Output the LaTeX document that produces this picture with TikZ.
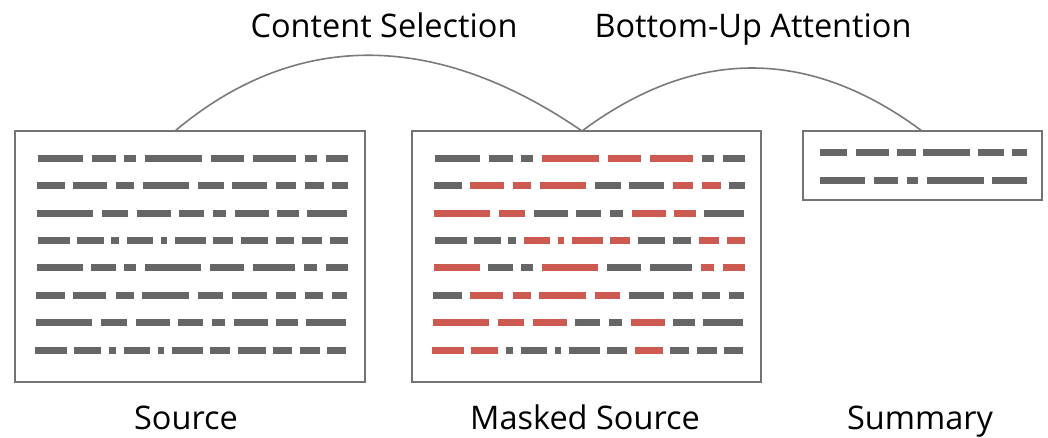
\documentclass[tikz,border=0pt]{standalone}
\usepackage{fontspec}
\setmainfont{Open Sans}
\definecolor{dg}{HTML}{666666}
\definecolor{rd}{HTML}{CC5A50}
\definecolor{frame}{HTML}{737373}
\definecolor{arcc}{HTML}{7A7A7A}

% one line of "text": a row of dashes at height #1
\newcommand\segrow[2]{%
  \foreach \a/\b/\c in {#2} {\draw[seg,\c] (\a,#1) -- (\b,#1);}}

% dash layouts of the eight document lines (x in source-box frame)
\newcommand\docrows{%
  \segrow{158.3}{37.7/83.3/lo,91.7/116/lo,124.3/136/lo,145/201.7/hi,210.7/244.3/hi,253.3/295.7/hi,304.7/317.3/lo,326/348.3/lo}
  \segrow{185.7}{36.7/65/lo,73.3/106.7/hi,116/134.3/hi,142.7/189.3/hi,198.3/223.7/lo,232.3/267.3/lo,276/296/hi,305/323.7/hi,332.3/347.7/lo}
  \segrow{213.1}{36.7/93.3/hi,102/127.7/hi,136.7/170.7/lo,179/204.3/lo,213/226/lo,235/269/hi,277.3/298.7/hi,307.3/347.3/lo}
  \segrow{240.5}{38.3/70/lo,76.7/104/lo,111/119/lo,126.7/153.3/hi,160.7/167/hi,174.7/205.7/hi,213.3/233.3/hi,241/268.3/lo,275.7/294/lo,301.7/321.7/hi,330/348.3/hi}
  \segrow{267.9}{37.2/82.8/hi,91.2/115.5/lo,123.8/135.5/lo,144.5/201.2/hi,210.2/243.8/lo,252.8/295.2/lo,304.2/316.8/hi,325.5/347.8/hi}
  \segrow{295.3}{36.2/64.5/lo,72.8/106.2/hi,115.5/133.8/hi,142.2/188.8/hi,197.8/223.2/hi,231.8/266.8/lo,275.5/295.5/lo,304.5/323.2/lo,331.8/347.2/lo}
  \segrow{322.7}{35.7/92.3/hi,101/126.7/hi,135.7/169.7/hi,178/203.3/lo,212/225/lo,234/268/hi,276.3/297.7/lo,306.3/346.3/lo}
  \segrow{350.1}{35/67/hi,74.3/101/hi,109/116/lo,124/150/lo,158/164/lo,172/203/lo,210/230/lo,238/266/hi,273/292/lo,299.7/320/lo,327.3/345.7/lo}
}

\tikzset{
  box/.style={draw=frame, line width=2pt, fill=white, outer sep=0pt,
    inner sep=0pt, anchor=north west},
  seg/.style={line width=7pt, line cap=butt},
  arcline/.style={draw=arcc, line width=1.6pt},
  lbl/.style={anchor=base, inner sep=0pt, font=\fontsize{32.5}{38}\selectfont},
}

\begin{document}
\begin{tikzpicture}[x=1pt, y=-1pt]
\useasboundingbox (0,0) rectangle (1048,437);

% the three documents
\node[box, minimum width=350pt, minimum height=251pt] (src) at (15,131) {};
\node[box, minimum width=349pt, minimum height=251pt] (msk) at (412,131) {};
\node[box, minimum width=239pt, minimum height=69pt]  (sum) at (803,131) {};

% source: every token grey
\begin{scope}[lo/.style={draw=dg}, hi/.style={draw=dg}]
  \docrows
\end{scope}

% masked source: selected tokens in red
\begin{scope}[shift={(397,0)}, lo/.style={draw=dg}, hi/.style={draw=rd}]
  \docrows
\end{scope}

% summary
\begin{scope}[lo/.style={draw=dg}]
  \segrow{152.3}{820/847.3/lo,856/889/lo,896.7/915.7/lo,923.3/970/lo,977.7/1004/lo,1011.7/1026.7/lo}
  \segrow{180.7}{820/865/lo,874/898.3/lo,906.7/918.3/lo,927.3/984/lo,992.3/1026.7/lo}
\end{scope}

% the two stages
\draw[arcline] ([xshift=160pt]src.north west)
  .. controls +(120,-101) and +(-147,-101) .. ([xshift=170pt]msk.north west);
\draw[arcline] ([xshift=170pt]msk.north west)
  .. controls +(113,-84) and +(-113,-84) .. ([xshift=119pt]sum.north west);

% labels
\node[lbl] (lcs) at (384,37) {Content Selection};
\node[lbl] (lbu) at (753,37) {Bottom-Up Attention};
\node[lbl] (lsrc) at (186,429) {Source};
\node[lbl] (lmsk) at (585,429) {Masked Source};
\node[lbl] (lsum) at (920,429) {Summary};
\end{tikzpicture}
\end{document}
